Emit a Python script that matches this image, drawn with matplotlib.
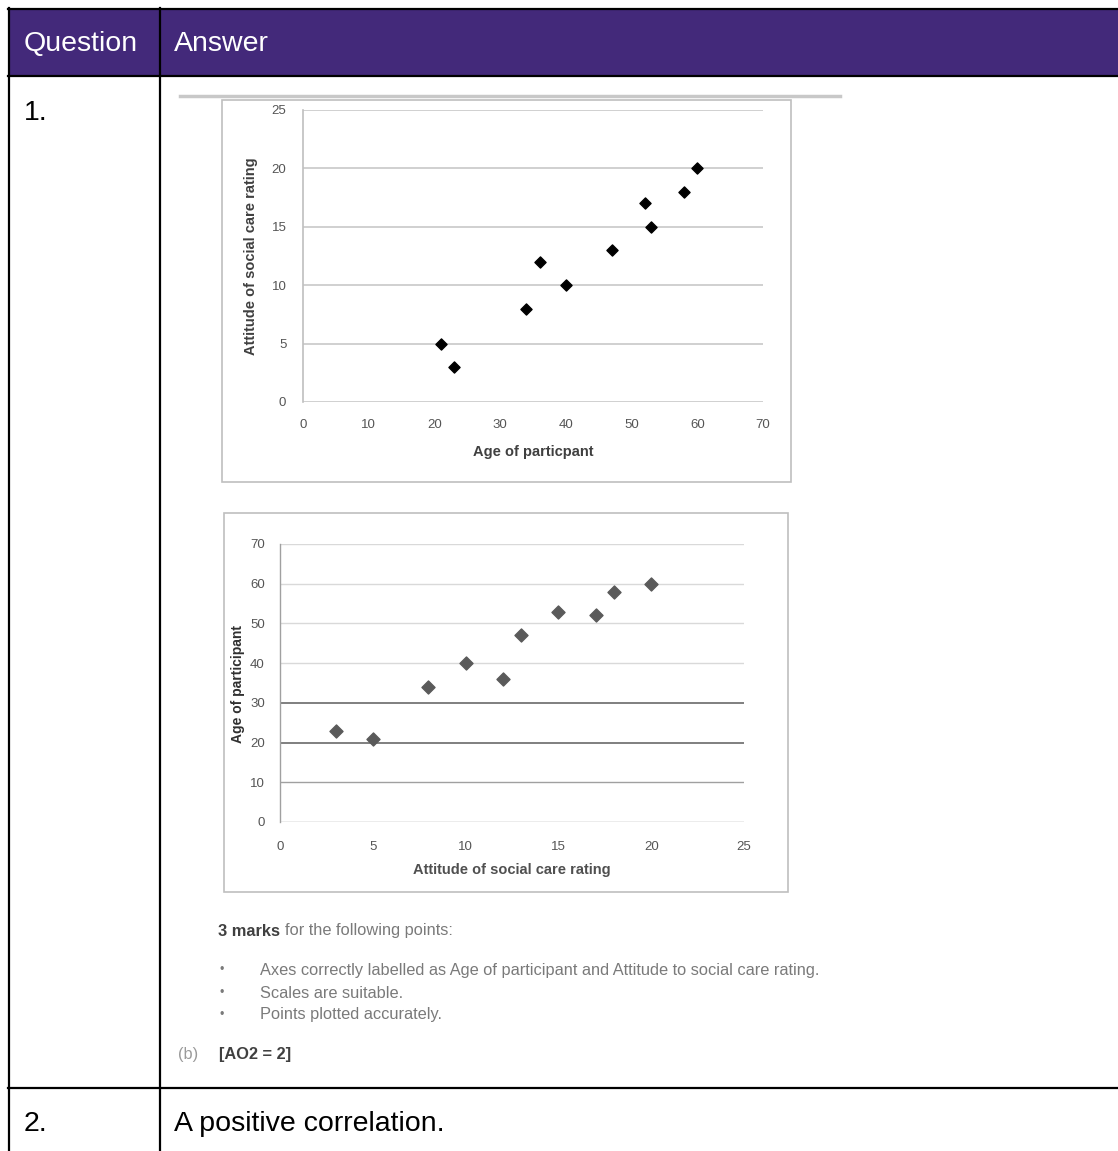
import matplotlib
matplotlib.use("Agg")
import matplotlib.pyplot as plt
from matplotlib.patches import Rectangle
from matplotlib.lines import Line2D

# ---- data ----
ages = [21, 23, 34, 36, 40, 47, 52, 53, 58, 60]
attitudes = [5, 3, 8, 12, 10, 13, 17, 15, 18, 20]
x1_ticks = [0, 10, 20, 30, 40, 50, 60, 70]
y1_ticks = [0, 5, 10, 15, 20, 25]
x2_ticks = [0, 5, 10, 15, 20, 25]
y2_ticks = [0, 10, 20, 30, 40, 50, 60, 70]
header_labels = ["Question", "Answer"]
question_numbers = ["1.", "2."]
answer2 = "A positive correlation."
marks_bullets = ["Axes correctly labelled as Age of participant and Attitude to social care rating.",
                 "Scales are suitable.",
                 "Points plotted accurately."]

W, H = 1118, 1151
fig = plt.figure(figsize=(W / 100, H / 100), dpi=100)
fig.patch.set_facecolor("white")
plt.rcParams['font.family'] = ['Liberation Sans', 'DejaVu Sans']

def fx(x):
    return x / W

def fy(y):
    return 1 - y / H

def rect_px(x0, y0, x1, y1, **kw):
    fig.patches.append(Rectangle((fx(x0), fy(y1)), fx(x1) - fx(x0), fy(y0) - fy(y1),
                                 transform=fig.transFigure, **kw))

def line_px(xs, ys, **kw):
    fig.lines.append(Line2D([fx(v) for v in xs], [fy(v) for v in ys],
                            transform=fig.transFigure, **kw))

def text_px(x, y, s, **kw):
    return fig.text(fx(x), fy(y), s, **kw)

# ---- table ----
purple = "#43297A"
rect_px(8, 8, 1118, 76, facecolor=purple, edgecolor="none", zorder=0)
lw_tab = 1.6
line_px([8, 1118], [9, 9], color="black", lw=lw_tab)
line_px([8, 1118], [76, 76], color="black", lw=lw_tab)
line_px([8, 1118], [1088, 1088], color="black", lw=lw_tab)
line_px([9, 9], [8, 1151], color="black", lw=lw_tab)
line_px([160, 160], [8, 1151], color="black", lw=lw_tab)

big = 20.5
text_px(24, 44, header_labels[0], color="white", fontsize=big, va="center", ha="left")
text_px(174, 44, header_labels[1], color="white", fontsize=big, va="center", ha="left")
text_px(24, 113, question_numbers[0], color="black", fontsize=big, va="center", ha="left")
text_px(24, 1124, question_numbers[1], color="black", fontsize=big, va="center", ha="left")
text_px(174, 1124, answer2, color="black", fontsize=big, va="center", ha="left")

# ---- chart frames ----
line_px([180, 840], [96, 96], color="#C8C8C8", lw=2.5)
rect_px(222, 100, 791, 482, facecolor="none", edgecolor="#BFBFBF", lw=1.2)
rect_px(224, 513, 788, 892, facecolor="none", edgecolor="#BFBFBF", lw=1.2)

tick_font = dict(fontsize=9.5, color="#555555")

def make_axes(l, r, t, b):
    return fig.add_axes([fx(l), fy(b), fx(r) - fx(l), fy(t) - fy(b)])

# Chart 1: attitude vs age
ax1 = make_axes(303, 763, 110, 402)
ax1.set_xlim(0, 70)
ax1.set_ylim(0, 25)
ax1.set_xticks(x1_ticks)
ax1.set_yticks(y1_ticks)
ax1.set_xticklabels([str(v) for v in x1_ticks], **tick_font)
ax1.set_yticklabels([str(v) for v in y1_ticks], **tick_font)
ax1.tick_params(axis="x", length=0, pad=12)
ax1.tick_params(axis="y", length=0, pad=12)
for v in y1_ticks:
    ax1.axhline(v, color="#C8C8C8", lw=1.2, zorder=0)
for s in ["top", "right", "bottom"]:
    ax1.spines[s].set_visible(False)
ax1.spines["left"].set_color("#BFBFBF")
ax1.spines["left"].set_linewidth(1.2)
ax1.scatter(ages, attitudes, marker="D", s=32, color="black", zorder=3, clip_on=False)
ax1.set_xlabel("Age of particpant", fontsize=10.5, fontweight="bold", color="#404040", labelpad=10)
ax1.set_ylabel("Attitude of social care rating", fontsize=10.5, fontweight="bold", color="#404040", labelpad=10)

# Chart 2: age vs attitude
ax2 = make_axes(280, 744, 544, 822)
ax2.set_xlim(0, 25)
ax2.set_ylim(0, 70)
ax2.set_xticks(x2_ticks)
ax2.set_yticks(y2_ticks)
ax2.set_xticklabels([str(v) for v in x2_ticks], **tick_font)
ax2.set_yticklabels([str(v) for v in y2_ticks], **tick_font)
ax2.tick_params(axis="x", length=0, pad=14)
ax2.tick_params(axis="y", length=0, pad=11)
for v in y2_ticks:
    dark = v in (20, 30)
    ax2.axhline(v, color="#7F7F7F" if dark else ("#A0A0A0" if v in (0, 10) else "#D9D9D9"),
                lw=1.4 if dark else 1.0, zorder=0)
for s in ["top", "right", "bottom"]:
    ax2.spines[s].set_visible(False)
ax2.spines["left"].set_color("#A0A0A0")
ax2.spines["left"].set_linewidth(1.0)
ax2.scatter(attitudes, ages, marker="D", s=44, color="#5A5A5A", zorder=3, clip_on=False)
ax2.set_xlabel("Attitude of social care rating", fontsize=10.5, fontweight="bold", color="#505050", labelpad=7)
text_px(238, 684, "Age of participant", fontsize=10, fontweight="bold", color="#303030",
        rotation=90, va="center", ha="center")

# ---- mark scheme text ----
gray_txt = "#7A7A7A"
small = 11.8
t_bold = text_px(218, 931, "3 marks", fontsize=small, fontweight="bold", color="#404040", va="center", ha="left")
fig.canvas.draw()
bb = t_bold.get_window_extent()
x_after = bb.x1 + 5
text_px(x_after, 931, "for the following points:", fontsize=small, color=gray_txt, va="center", ha="left")
for i, b in enumerate(marks_bullets):
    yy = [970, 993, 1015][i]
    text_px(220, yy, "•", fontsize=9, color=gray_txt, va="center", ha="left")
    text_px(260, yy, b, fontsize=small, color=gray_txt, va="center", ha="left")
text_px(178, 1055, "(b)", fontsize=small, color="#9A9A9A", va="center", ha="left")
text_px(219, 1055, "[AO2 = 2]", fontsize=small, fontweight="bold", color="#404040", va="center", ha="left")

fig.savefig("out.png", dpi=100, facecolor="white")
